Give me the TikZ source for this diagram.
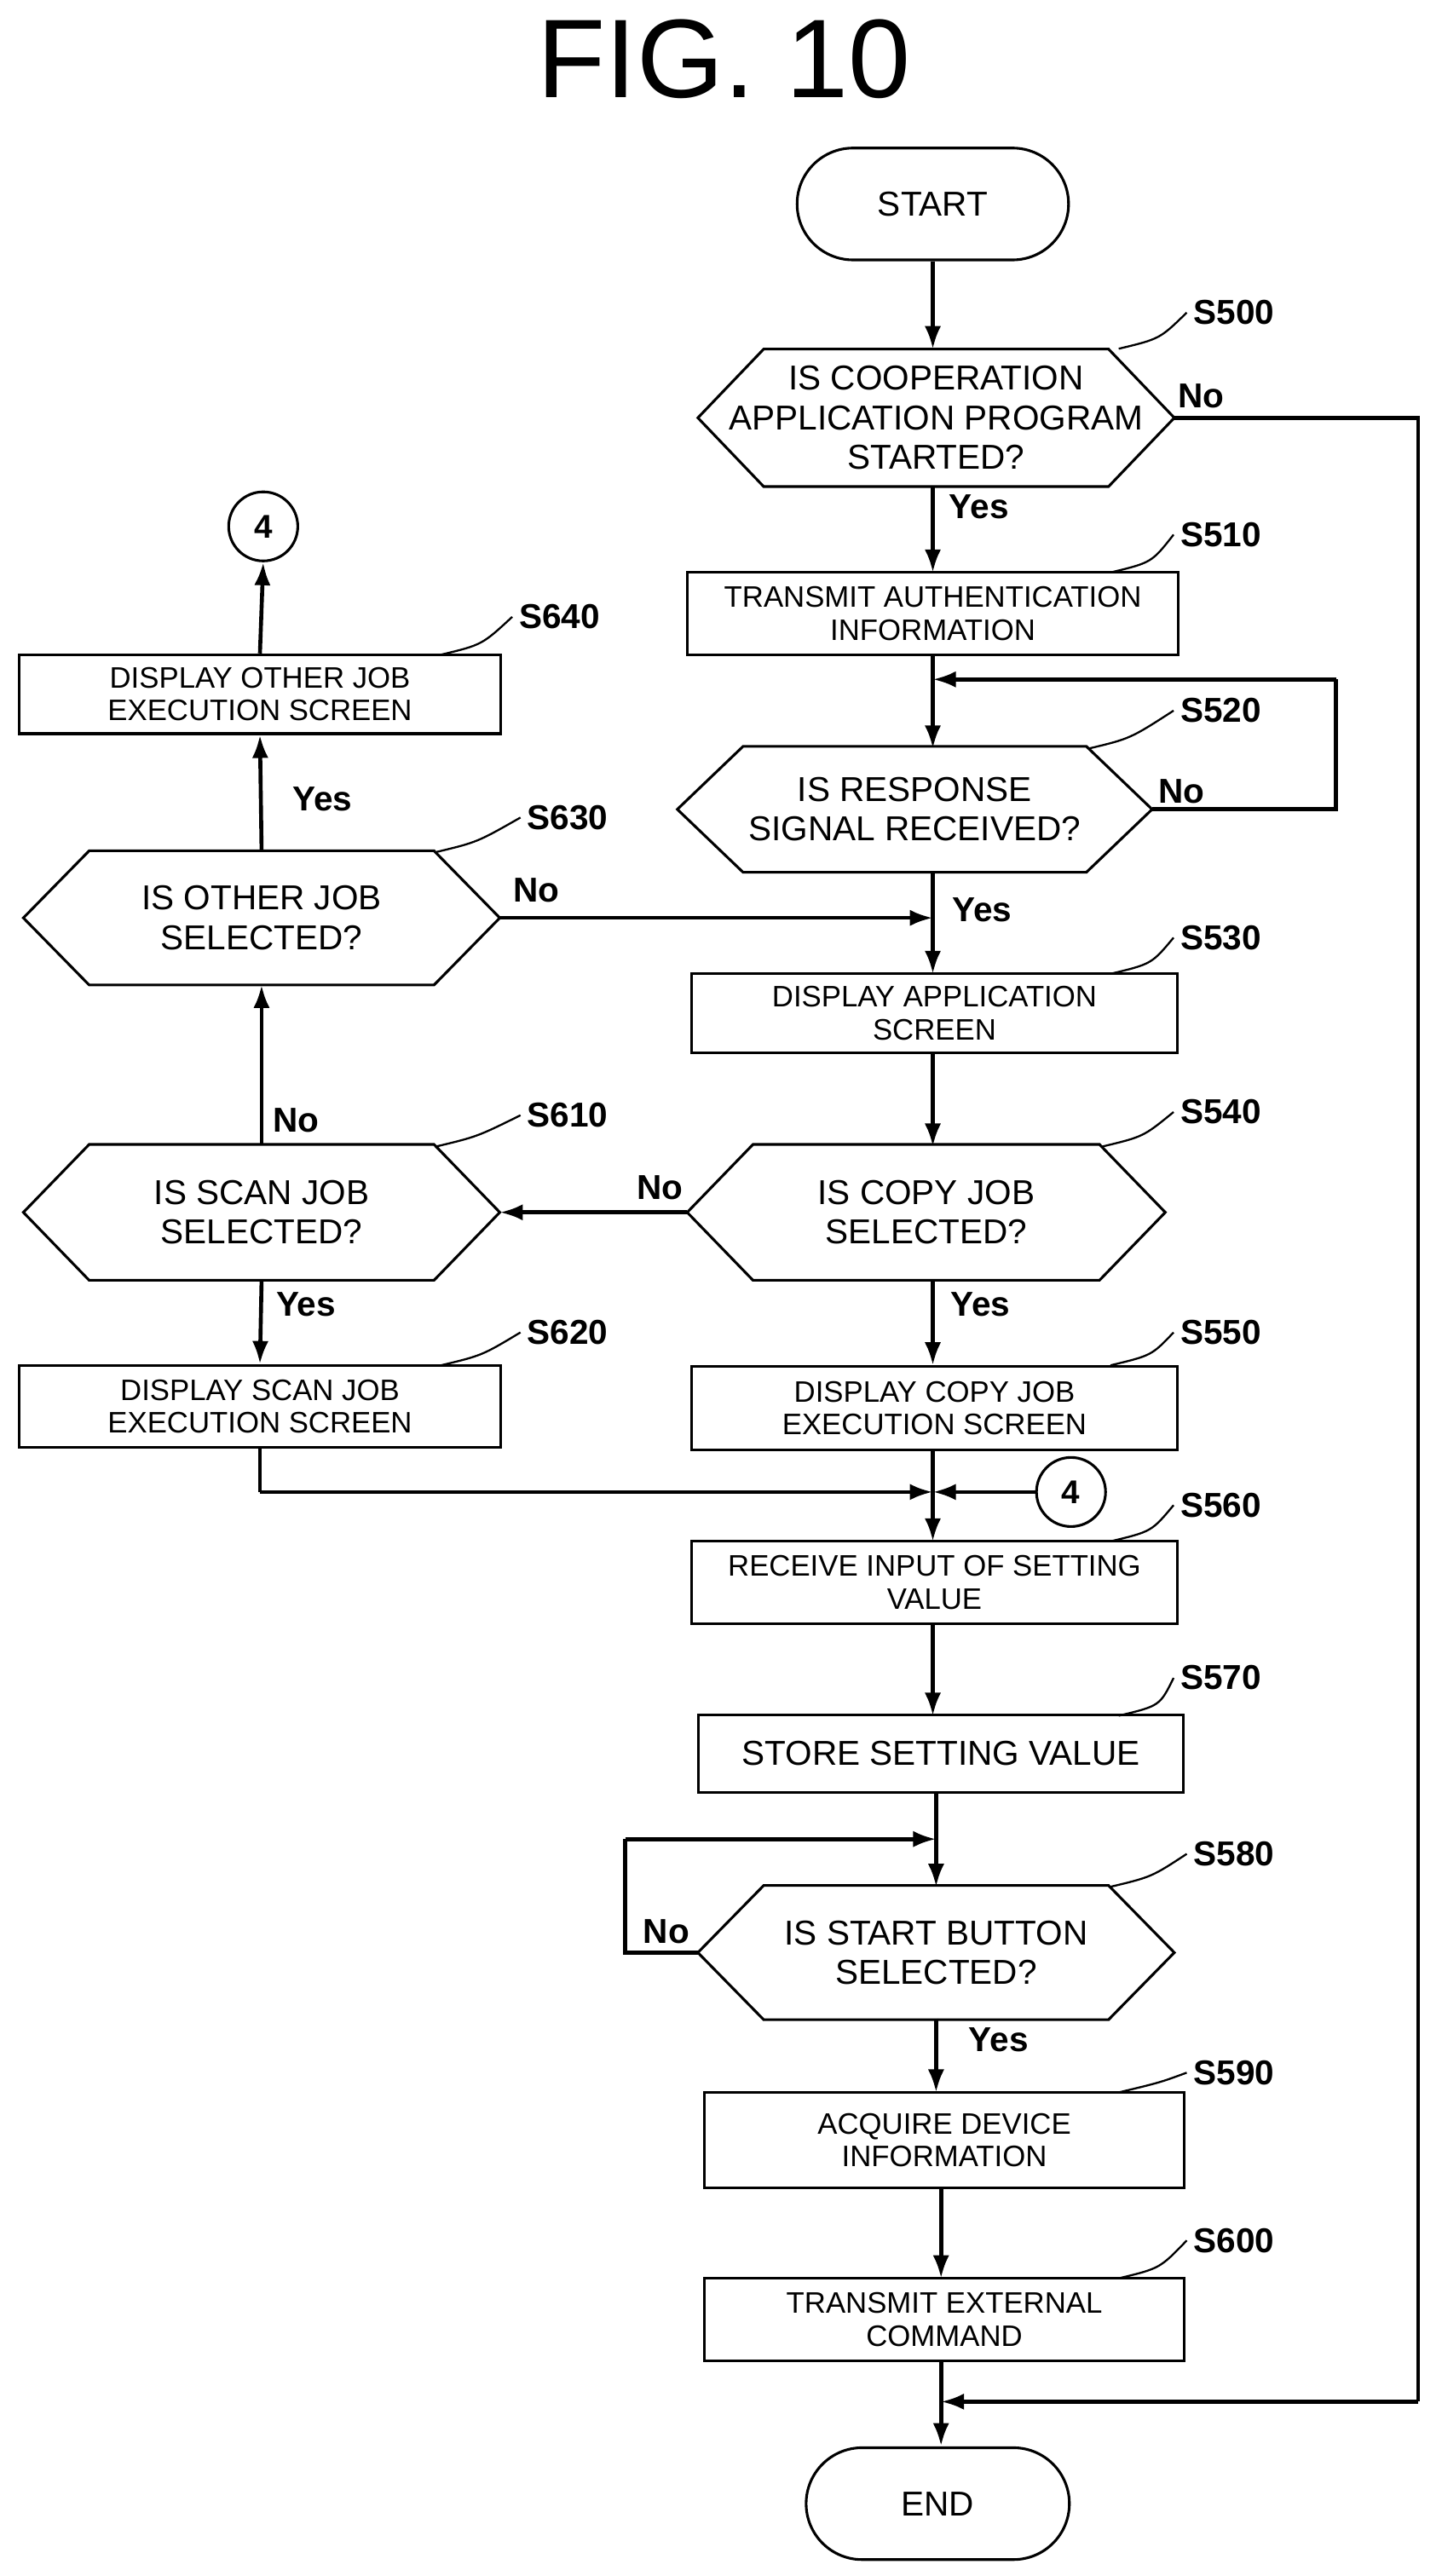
\documentclass[tikz,border=0pt]{standalone}
\usepackage{fontspec}
\setmainfont{Liberation Sans}
\usetikzlibrary{arrows.meta,calc}
\begin{document}
\begin{tikzpicture}[x=1pt,y=-1pt,
  line width=1.6pt,
  arr/.style={line width=2.4pt,-{Latex[length=14pt,width=10pt]}},
  ln/.style={line width=2.4pt},
  box/.style={draw,line width=1.6pt,align=center,font=\fontsize{18}{20}\selectfont,inner sep=0pt},
  hx/.style={align=center,font=\fontsize{21}{24}\selectfont,inner sep=0pt},
  term/.style={draw,line width=1.6pt,rounded corners=34pt,minimum width=165pt,minimum height=68pt,font=\fontsize{21}{24}\selectfont},
  lab/.style={font=\bfseries\fontsize{21}{24}\selectfont},
  yn/.style={font=\bfseries\fontsize{21}{24}\selectfont},
  circ/.style={draw,circle,line width=1.6pt,minimum size=42pt,inner sep=0pt,font=\bfseries\fontsize{20}{22}\selectfont},
  lead/.style={line width=1.2pt}]
\useasboundingbox (0,0) rectangle (876,1566);
\newcommand{\myhex}[6]{% name, cx, cy, w, h, text
  \node[hx,minimum width=#4pt,minimum height=#5pt] (#1) at (#2,#3) {#6};
  \draw ([xshift=40pt]#1.north west) -- ([xshift=-40pt]#1.north east) -- (#1.east) -- ([xshift=-40pt]#1.south east) -- ([xshift=40pt]#1.south west) -- (#1.west) -- cycle;}
\node[font=\fontsize{68}{70}\selectfont] (title) at (440,36) {FIG. 10};
\node[term] (start) at (567,124) {START};
\myhex{s500}{569}{254}{288}{82}{IS COOPERATION\\APPLICATION PROGRAM\\STARTED?}
\node[box,minimum width=298pt,minimum height=50pt] (s510) at (567,373) {TRANSMIT AUTHENTICATION\\INFORMATION};
\myhex{s520}{556}{492}{287}{75}{IS RESPONSE\\SIGNAL RECEIVED?}
\node[box,minimum width=295pt,minimum height=48pt] (s530) at (568,616) {DISPLAY APPLICATION\\SCREEN};
\myhex{s540}{563}{737}{289}{81}{IS COPY JOB\\SELECTED?}
\node[box,minimum width=295pt,minimum height=51pt] (s550) at (568,856) {DISPLAY COPY JOB\\EXECUTION SCREEN};
\node[box,minimum width=295pt,minimum height=50pt] (s560) at (568,962) {RECEIVE INPUT OF SETTING\\VALUE};
\node[box,minimum width=295pt,minimum height=47pt,font=\fontsize{21}{24}\selectfont] (s570) at (572,1066) {STORE SETTING VALUE};
\myhex{s580}{569}{1187}{288}{80}{IS START BUTTON\\SELECTED?}
\node[box,minimum width=292pt,minimum height=58pt] (s590) at (574,1301) {ACQUIRE DEVICE\\INFORMATION};
\node[box,minimum width=292pt,minimum height=50pt] (s600) at (574,1410) {TRANSMIT EXTERNAL\\COMMAND};
\node[term,minimum width=160pt] (end) at (570,1522) {END};
\myhex{s630}{159}{558}{288}{80}{IS OTHER JOB\\SELECTED?}
\myhex{s610}{159}{737}{288}{81}{IS SCAN JOB\\SELECTED?}
\node[box,minimum width=293pt,minimum height=48pt] (s640) at (158,422) {DISPLAY OTHER JOB\\EXECUTION SCREEN};
\node[box,minimum width=293pt,minimum height=50pt] (s620) at (158,855) {DISPLAY SCAN JOB\\EXECUTION SCREEN};
\node[circ] (c1) at (160,320) {4};
\node[circ] (c2) at (651,907) {4};
\coordinate (j1) at (567,907);
\coordinate (j0) at (567,413);
\coordinate (j2) at (567,558);
\coordinate (j3) at (569,1118);
\coordinate (j4) at (572,1460);
% main flow
\draw[arr] (start) -- (start|-s500.north);
\draw[arr] (s500.south-|567,0) -- (567,348);
\draw[arr] (567,398) -- (567,455);
\draw[arr] (567,530) -- (567,592);
\draw[arr] (567,640) -- (567,697);
\draw[arr] (567,778) -- (567,830);
\draw[arr] (567,881) -- (567,937);
\draw[arr] (567,987) -- (567,1043);
\draw[arr] (569,1090) -- (569,1147);
\draw[arr] (569,1227) -- (569,1272);
\draw[arr] (572,1330) -- (572,1385);
\draw[arr] (572,1435) -- (572,1487);
% loops
\draw[ln] (s500.east) -- (862,254) -- (862,1460);
\draw[arr] (862,1460) -- (j4);
\draw[ln] (s520.east) -- (812,492) -- (812,413);
\draw[arr] (812,413) -- (j0);
\draw[arr] (s630.east) -- (j2);
\draw[arr] (s540.west) -- (s610.east);
\draw[arr] (s610.north) -- (s630.south);
\draw[arr] (s630.north) -- (s640.south);
\draw[arr] (s640.north) -- (c1.south);
\draw[arr] (s610.south) -- (s620.north);
\draw[ln] (s620.south) -- (158,907);
\draw[arr] (158,907) -- (j1);
\draw[arr] (c2.west) -- (j1);
\draw[ln] (s580.west) -- (380,1187) -- (380,1118);
\draw[arr] (380,1118) -- (j3);
% yes/no
\node[yn] at (730,241) {No};
\node[yn] at (595,308) {Yes};
\node[yn] at (718,481) {No};
\node[yn] at (597,553) {Yes};
\node[yn] at (326,541) {No};
\node[yn] at (401,722) {No};
\node[yn] at (196,486) {Yes};
\node[yn] at (180,681) {No};
\node[yn] at (186,793) {Yes};
\node[yn] at (596,793) {Yes};
\node[yn] at (405,1174) {No};
\node[yn] at (607,1240) {Yes};
% step labels with leaders
\foreach \t/\lx/\ly/\sx/\sy in {S500/750/190/680/212, S510/742/325/675/348, S520/742/432/662/455, S530/742/570/675/592, S540/742/676/670/697, S550/742/810/675/830, S560/742/915/675/937, S570/742/1020/680/1043, S580/750/1127/675/1147, S590/750/1260/680/1272, S600/750/1362/680/1385, S640/340/375/268/398, S630/345/497/265/518, S610/345/678/265/697, S620/345/810/268/830}
{\node[lab] (L\t) at (\lx,\ly) {\t}; \draw[lead] (\sx,\sy) .. controls (\sx+25,\sy-6) .. (L\t.west);}
\end{tikzpicture}
\end{document}
